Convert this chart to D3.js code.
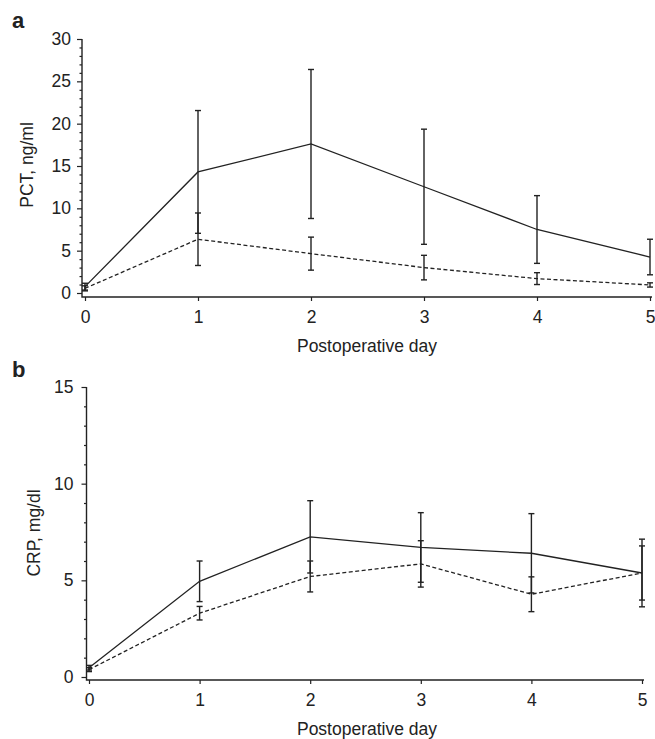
<!DOCTYPE html>
<html>
<head>
<meta charset="utf-8">
<script src="https://cdn.jsdelivr.net/npm/d3@7"></script>
<style>
  body { margin: 0; background: #fff; }
  svg text { font-family: "Liberation Sans", Arial, Helvetica, sans-serif; fill: #222; }
</style>
</head>
<body>
<div id="chart"></div>
<script>
// data
const days = [0, 1, 2, 3, 4, 5];

// panel a: PCT, ng/ml
const pctSolid = [0.75, 14.3, 17.6, 12.55, 7.5, 4.25];
const pctSolidErr = [0.4, 7.25, 8.8, 6.8, 4.0, 2.1];
const pctDashed = [0.55, 6.35, 4.65, 3.0, 1.7, 0.95];
const pctDashedErr = [0.3, 3.1, 1.95, 1.45, 0.7, 0.25];

// panel b: CRP, mg/dl
const crpSolid = [0.48, 4.95, 7.25, 6.7, 6.4, 5.38];
const crpSolidErr = [0.12, 1.05, 1.87, 1.8, 2.05, 1.75];
const crpDashed = [0.38, 3.3, 5.2, 5.85, 4.28, 5.38];
const crpDashedErr = [0.1, 0.35, 0.8, 1.2, 0.9, 1.4];

const pctTicks = [0, 5, 10, 15, 20, 25, 30];
const crpTicks = [0, 5, 10, 15];

const W = 655, H = 739;
const ink = "#222";

const svg = d3.select("#chart").append("svg")
    .attr("width", W)
    .attr("height", H);

function panel(opt) {
    const g = svg.append("g");
    const x = d3.scaleLinear().domain([0, 5]).range(opt.xRange);
    const y = d3.scaleLinear().domain([0, opt.yMax]).range(opt.yRange);

    // y axis: minor ticks every 1 unit, major with labels
    const yMinor = d3.range(0, opt.yMax + 1).filter(v => v % 5 !== 0);
    g.append("g")
        .attr("transform", `translate(${opt.axisX},0)`)
        .call(d3.axisLeft(y).tickValues(yMinor).tickSize(2.5).tickFormat(""))
        .call(a => a.select(".domain").remove());
    g.append("g")
        .attr("transform", `translate(${opt.axisX},0)`)
        .call(d3.axisLeft(y).tickValues(opt.yTicks).tickSize(5).tickPadding(opt.yPad).tickFormat(d3.format("d")))
        .call(a => a.select(".domain").remove())
        .call(a => a.selectAll("text").style("font-size", "17.5px"));

    // x axis
    g.append("g")
        .attr("transform", `translate(0,${opt.axisY})`)
        .call(d3.axisBottom(x).tickValues(days).tickSize(4).tickPadding(9.5).tickFormat(d3.format("d")))
        .call(a => a.select(".domain").remove())
        .call(a => a.selectAll("text").style("font-size", "17.5px"));

    g.selectAll(".tick line").attr("stroke", ink).attr("stroke-width", 1.2);

    // axis lines
    g.append("path")
        .attr("d", `M${opt.axisX},${y(opt.yMax)}V${opt.axisY}H${x(5) + 2}`)
        .attr("fill", "none")
        .attr("stroke", ink)
        .attr("stroke-width", 1.4);

    const line = d3.line().x((d, i) => x(days[i])).y(d => y(d));

    [[opt.dashed, opt.dashedErr, "4,2.5"], [opt.solid, opt.solidErr, null]].forEach(([vals, err, dash]) => {
        g.append("path")
            .datum(vals)
            .attr("d", line)
            .attr("fill", "none")
            .attr("stroke", ink)
            .attr("stroke-width", 1.3)
            .attr("stroke-dasharray", dash);

        const bars = g.append("g").selectAll("g")
            .data(vals)
            .join("g")
            .attr("stroke", ink)
            .attr("stroke-width", 1.4);
        bars.append("line")
            .attr("x1", (d, i) => x(days[i]))
            .attr("x2", (d, i) => x(days[i]))
            .attr("y1", (d, i) => y(d - err[i]))
            .attr("y2", (d, i) => y(d + err[i]));
        bars.append("line")
            .attr("x1", (d, i) => x(days[i]) - 3)
            .attr("x2", (d, i) => x(days[i]) + 3)
            .attr("y1", (d, i) => y(d + err[i]))
            .attr("y2", (d, i) => y(d + err[i]));
        bars.append("line")
            .attr("x1", (d, i) => x(days[i]) - 3)
            .attr("x2", (d, i) => x(days[i]) + 3)
            .attr("y1", (d, i) => y(d - err[i]))
            .attr("y2", (d, i) => y(d - err[i]));
    });

    // titles
    g.append("text")
        .attr("x", 367)
        .attr("y", opt.titleY)
        .attr("text-anchor", "middle")
        .style("font-size", "17.5px")
        .text("Postoperative day");

    g.append("text")
        .attr("transform", `translate(${opt.yTitleX},${opt.yTitleY}) rotate(-90)`)
        .attr("text-anchor", "middle")
        .style("font-size", "17.5px")
        .text(opt.yTitle);

    g.append("text")
        .attr("x", 12)
        .attr("y", opt.letterY)
        .style("font-size", "22px")
        .style("font-weight", "bold")
        .text(opt.letter);
}

panel({
    letter: "a", letterY: 28,
    xRange: [85, 650], yRange: [293, 39], yMax: 30, yTicks: pctTicks,
    axisX: 82, axisY: 297, yPad: 6,
    solid: pctSolid, solidErr: pctSolidErr, dashed: pctDashed, dashedErr: pctDashedErr,
    titleY: 352, yTitle: "PCT, ng/ml", yTitleX: 33, yTitleY: 165
});

panel({
    letter: "b", letterY: 377,
    xRange: [89, 642], yRange: [677, 387], yMax: 15, yTicks: crpTicks,
    axisX: 86.5, axisY: 680, yPad: 8,
    solid: crpSolid, solidErr: crpSolidErr, dashed: crpDashed, dashedErr: crpDashedErr,
    titleY: 735, yTitle: "CRP, mg/dl", yTitleX: 40, yTitleY: 533
});
</script>
</body>
</html>
